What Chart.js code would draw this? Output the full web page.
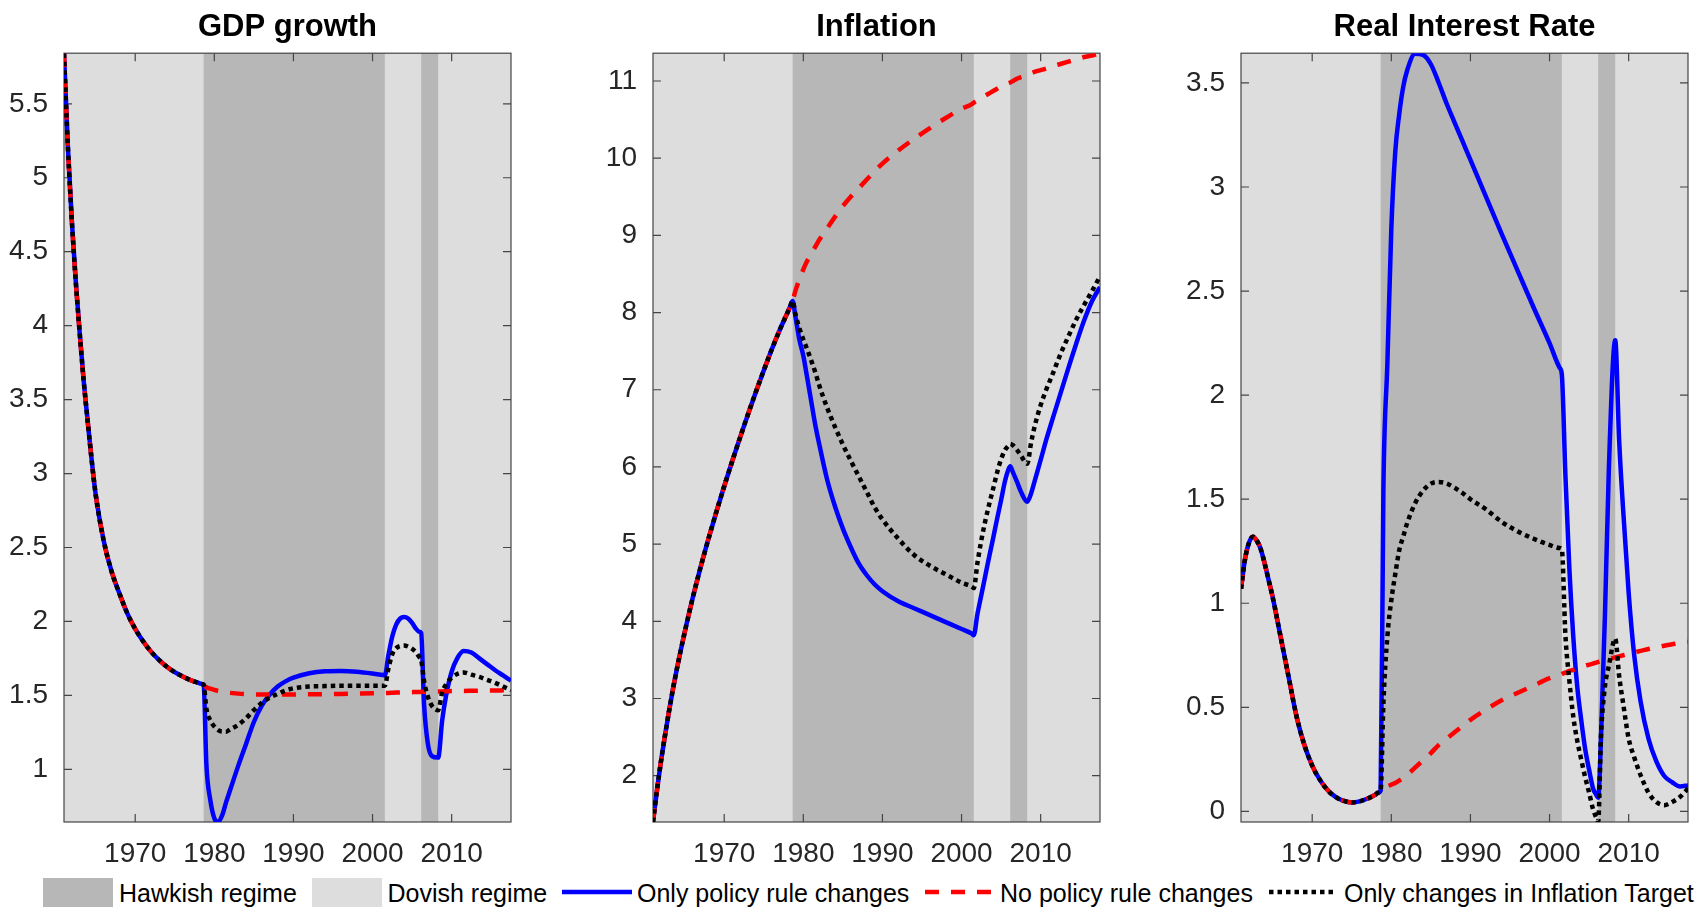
<!DOCTYPE html>
<html>
<head>
<meta charset="utf-8">
<script src="https://cdn.jsdelivr.net/npm/chart.js@4.4.0/dist/chart.umd.min.js"></script>
<style>
    body { margin: 0; background: #fff; width: 1705px; height: 910px; position: relative; overflow: hidden;
           font-family: "Liberation Sans", Arial, sans-serif; }
    canvas.panel { position: absolute; top: 0; }
    .leg-text { position: absolute; top: 876px; height: 34px; line-height: 34px; font-size: 25px; color: #000; white-space: nowrap; }
    .leg-patch { position: absolute; top: 878px; height: 29px; }
    .leg-line { position: absolute; top: 877px; }
</style>
</head>
<body>
<canvas id="gdp" class="panel" width="513" height="870" style="left:0px"></canvas>
<canvas id="infl" class="panel" width="513" height="870" style="left:589px"></canvas>
<canvas id="rate" class="panel" width="513" height="870" style="left:1177px"></canvas>
<div id="legend"></div>
<script>
// --- data ---
const yearsPre = [1961, 1961.5, 1962, 1962.5, 1963, 1963.5, 1964, 1964.5, 1965, 1966, 1967, 1968,
    1969, 1970, 1971, 1972, 1973, 1974, 1975, 1976, 1977, 1978, 1978.3, 1978.65];
const yearsPost = [1979, 1979.5, 1980, 1980.5, 1981, 1981.5, 1982, 1983, 1984, 1985, 1986, 1987, 1988,
    1989, 1990, 1992, 1994, 1996, 1998, 2000, 2001.3, 2001.55, 2002, 2002.5, 2003, 2003.5, 2004, 2004.5,
    2005, 2005.5, 2005.9, 2006.15, 2006.5, 2007, 2007.5, 2008.3, 2008.8, 2009.3, 2010, 2010.7, 2011.5,
    2012.5, 2013.5, 2014.5, 2015.5, 2016.5, 2017.5];
const yearTicks = [1970, 1980, 1990, 2000, 2010];

const hawkishStart = [1978.65, 2006.15];
const hawkishEnd = [2001.55, 2008.3];

// GDP growth
const gdpCommon = [5.84, 5.2, 4.7, 4.29, 3.94, 3.62, 3.35, 3.09, 2.86, 2.55, 2.34, 2.19, 2.055, 1.95,
    1.866, 1.796, 1.74, 1.694, 1.657, 1.628, 1.603, 1.584, 1.578, 1.572];
const gdpPolicy = [1.03, 0.79, 0.67, 0.645, 0.69, 0.78, 0.86, 1.02, 1.17, 1.32, 1.43, 1.505, 1.56, 1.595,
    1.62, 1.65, 1.663, 1.665, 1.66, 1.648, 1.638, 1.635, 1.77, 1.90, 1.98, 2.02, 2.03, 2.02, 1.99, 1.95,
    1.93, 1.92, 1.45, 1.17, 1.09, 1.08, 1.33, 1.50, 1.66, 1.75, 1.80, 1.79, 1.75, 1.71, 1.67, 1.635, 1.60];
const gdpNoPolicy = [1.555, 1.545, 1.537, 1.53, 1.525, 1.52, 1.517, 1.512, 1.508, 1.506, 1.506, 1.506,
    1.506, 1.506, 1.506, 1.507, 1.508, 1.51, 1.512, 1.514, 1.515, 1.516, 1.517, 1.518, 1.519, 1.52, 1.52,
    1.521, 1.522, 1.523, 1.5235, 1.524, 1.524, 1.525, 1.526, 1.527, 1.527, 1.528, 1.529, 1.53, 1.53,
    1.531, 1.532, 1.533, 1.533, 1.534, 1.535];
const gdpTarget = [1.41, 1.33, 1.29, 1.265, 1.255, 1.255, 1.27, 1.30, 1.345, 1.40, 1.45, 1.485, 1.51,
    1.533, 1.548, 1.56, 1.563, 1.565, 1.565, 1.565, 1.565, 1.565, 1.68, 1.78, 1.82, 1.835, 1.838, 1.83,
    1.815, 1.79, 1.76, 1.74, 1.60, 1.49, 1.43, 1.40, 1.52, 1.575, 1.62, 1.645, 1.655, 1.64, 1.625, 1.605,
    1.585, 1.56, 1.535];
const gdpTicks = [1, 1.5, 2, 2.5, 3, 3.5, 4, 4.5, 5, 5.5];

// Inflation
const inflCommon = [1.40, 1.81, 2.18, 2.51, 2.82, 3.11, 3.375, 3.62, 3.855, 4.295, 4.695, 5.065, 5.415,
    5.75, 6.07, 6.38, 6.68, 6.97, 7.25, 7.52, 7.77, 8.00, 8.07, 8.15];
const inflPolicy = [7.95, 7.65, 7.44, 7.15, 6.85, 6.55, 6.30, 5.84, 5.49, 5.20, 4.96, 4.75, 4.60, 4.48,
    4.39, 4.26, 4.17, 4.08, 3.99, 3.90, 3.84, 3.82, 4.09, 4.34, 4.59, 4.84, 5.08, 5.33, 5.57, 5.82, 5.96,
    6.01, 5.93, 5.81, 5.68, 5.55, 5.66, 5.84, 6.09, 6.35, 6.62, 6.95, 7.28, 7.60, 7.90, 8.15, 8.33];
const inflNoPolicy = [8.28, 8.43, 8.56, 8.67, 8.76, 8.85, 8.94, 9.09, 9.24, 9.38, 9.50, 9.61, 9.72, 9.83,
    9.93, 10.10, 10.25, 10.39, 10.52, 10.64, 10.70, 10.72, 10.75, 10.78, 10.81, 10.84, 10.87, 10.90, 10.93,
    10.95, 10.97, 10.98, 11.0, 11.03, 11.05, 11.08, 11.10, 11.12, 11.14, 11.16, 11.19, 11.22, 11.25, 11.28,
    11.31, 11.33, 11.36];
const inflTarget = [7.98, 7.80, 7.65, 7.52, 7.38, 7.23, 7.06, 6.77, 6.52, 6.29, 6.08, 5.88, 5.68, 5.48,
    5.32, 5.07, 4.86, 4.72, 4.61, 4.50, 4.45, 4.43, 4.75, 5.05, 5.30, 5.52, 5.72, 5.93, 6.10, 6.22, 6.27,
    6.30, 6.28, 6.22, 6.15, 6.04, 6.32, 6.55, 6.80, 7.00, 7.20, 7.46, 7.69, 7.91, 8.10, 8.28, 8.47];
const inflTicks = [2, 3, 4, 5, 6, 7, 8, 9, 10, 11];

// Real interest rate
const rateCommon = [1.07, 1.21, 1.29, 1.32, 1.30, 1.26, 1.19, 1.11, 1.03, 0.84, 0.65, 0.46, 0.32, 0.22,
    0.15, 0.10, 0.068, 0.05, 0.043, 0.048, 0.062, 0.08, 0.09, 0.10];
const ratePolicy = [1.55, 2.15, 2.80, 3.17, 3.35, 3.48, 3.56, 3.64, 3.635, 3.59, 3.50, 3.40, 3.31, 3.22,
    3.13, 2.95, 2.77, 2.595, 2.42, 2.25, 2.13, 2.10, 1.62, 1.17, 0.84, 0.60, 0.44, 0.30, 0.20, 0.11, 0.08,
    0.065, 0.35, 0.94, 1.65, 2.264, 1.78, 1.45, 1.05, 0.75, 0.53, 0.35, 0.24, 0.17, 0.14, 0.12, 0.125];
const rateNoPolicy = [0.11, 0.12, 0.128, 0.136, 0.148, 0.16, 0.175, 0.21, 0.245, 0.28, 0.32, 0.35, 0.38,
    0.41, 0.44, 0.49, 0.535, 0.57, 0.605, 0.64, 0.655, 0.66, 0.667, 0.675, 0.68, 0.687, 0.693, 0.70, 0.705,
    0.71, 0.715, 0.718, 0.722, 0.727, 0.732, 0.74, 0.745, 0.75, 0.757, 0.764, 0.771, 0.78, 0.788, 0.796,
    0.803, 0.81, 0.815];
const rateTarget = [0.52, 0.84, 1.015, 1.14, 1.255, 1.32, 1.385, 1.48, 1.54, 1.575, 1.583, 1.575, 1.555,
    1.53, 1.50, 1.45, 1.39, 1.345, 1.31, 1.28, 1.265, 1.26, 0.85, 0.63, 0.455, 0.34, 0.25, 0.165, 0.09,
    0.01, -0.03, -0.05, 0.36, 0.60, 0.70, 0.83, 0.65, 0.52, 0.35, 0.26, 0.175, 0.09, 0.045, 0.03, 0.045,
    0.07, 0.11];
const rateTicks = [0, 0.5, 1, 1.5, 2, 2.5, 3, 3.5];

// --- styling ---
const FONT = '"Liberation Sans", Arial, Helvetica, sans-serif';
const DOVISH = '#dddddd';
const HAWKISH = '#b7b7b7';
const AXIS = '#454545';
const TICK_TEXT = '#262626';

const seriesStyle = [
    { label: 'Only policy rule changes', color: '#0000ff', width: 4.5, dash: [], order: 3 },
    { label: 'No policy rule changes', color: '#ff0000', width: 4.5, dash: [14, 12], order: 2 },
    { label: 'Only changes in Inflation Target', color: '#000000', width: 4.5, dash: [4.5, 4], order: 1 },
];

// shaded regimes + box with inward ticks (matlab look)
const axesBox = {
    id: 'axesBox',
    beforeDatasetsDraw(chart) {
        const { ctx, chartArea: a, scales: { x, y } } = chart;
        ctx.save();
        ctx.fillStyle = DOVISH;
        ctx.fillRect(a.left, a.top, a.width, a.height);
        ctx.fillStyle = HAWKISH;
        hawkishStart.forEach((s, i) => {
            const x0 = x.getPixelForValue(s);
            const x1 = x.getPixelForValue(hawkishEnd[i]);
            ctx.fillRect(x0, a.top, x1 - x0, a.height);
        });
        ctx.strokeStyle = AXIS;
        ctx.lineWidth = 1.2;
        ctx.strokeRect(a.left, a.top, a.width, a.height);
        ctx.beginPath();
        x.ticks.forEach(t => {
            const px = x.getPixelForValue(t.value);
            ctx.moveTo(px, a.bottom); ctx.lineTo(px, a.bottom - 8);
            ctx.moveTo(px, a.top); ctx.lineTo(px, a.top + 8);
        });
        y.ticks.forEach(t => {
            const py = y.getPixelForValue(t.value);
            ctx.moveTo(a.left, py); ctx.lineTo(a.left + 8, py);
            ctx.moveTo(a.right, py); ctx.lineTo(a.right - 8, py);
        });
        ctx.stroke();
        ctx.restore();
    }
};

function toPoints(common, post) {
    return yearsPre.map((x, i) => ({ x, y: common[i] }))
        .concat(yearsPost.map((x, i) => ({ x, y: post[i] })));
}

function makePanel(id, title, common, series, yMin, yMax, yTicks) {
    const ctx = document.getElementById(id).getContext('2d');
    return new Chart(ctx, {
        type: 'line',
        data: {
            datasets: series.map((vals, i) => ({
                label: seriesStyle[i].label,
                data: toPoints(common, vals),
                borderColor: seriesStyle[i].color,
                borderWidth: seriesStyle[i].width,
                borderDash: seriesStyle[i].dash,
                order: seriesStyle[i].order,
            })),
        },
        options: {
            responsive: false,
            animation: false,
            layout: { padding: { right: 2 } },
            elements: {
                point: { radius: 0 },
                line: { cubicInterpolationMode: 'monotone', borderCapStyle: 'butt', borderJoinStyle: 'round' }
            },
            plugins: {
                legend: { display: false },
                tooltip: { enabled: false },
                title: {
                    display: true,
                    text: title,
                    fullSize: false,
                    color: '#000',
                    font: { size: 31, weight: 'bold', family: FONT, lineHeight: 1.2 },
                    padding: { top: 9, bottom: 7 }
                }
            },
            scales: {
                x: {
                    type: 'linear',
                    min: 1961,
                    max: 2017.5,
                    grid: { display: false },
                    border: { display: false },
                    afterBuildTicks: s => { s.ticks = yearTicks.map(v => ({ value: v })); },
                    afterFit: s => { s.height = 48; },
                    ticks: {
                        padding: 7, color: TICK_TEXT, maxRotation: 0, autoSkip: false,
                        font: { size: 28, family: FONT },
                        callback: v => String(v)
                    }
                },
                y: {
                    min: yMin,
                    max: yMax,
                    grid: { display: false },
                    border: { display: false },
                    afterBuildTicks: s => { s.ticks = yTicks.map(v => ({ value: v })); },
                    afterFit: s => { s.width = 64; },
                    ticks: {
                        padding: 8, color: TICK_TEXT, autoSkip: false,
                        font: { size: 28, family: FONT },
                        callback: v => String(v)
                    }
                }
            }
        },
        plugins: [axesBox]
    });
}

makePanel('gdp', 'GDP growth', gdpCommon, [gdpPolicy, gdpNoPolicy, gdpTarget], 0.644, 5.842, gdpTicks);
makePanel('infl', 'Inflation', inflCommon, [inflPolicy, inflNoPolicy, inflTarget], 1.40, 11.36, inflTicks);
makePanel('rate', 'Real Interest Rate', rateCommon, [ratePolicy, rateNoPolicy, rateTarget], -0.051, 3.643, rateTicks);

// --- shared legend along the bottom ---
const legendItems = [
    { label: 'Hawkish regime', patch: HAWKISH, symLeft: 43, symWidth: 70, textLeft: 119 },
    { label: 'Dovish regime', patch: DOVISH, symLeft: 312, symWidth: 70, textLeft: 387.5 },
    { label: seriesStyle[0].label, line: seriesStyle[0], symLeft: 562, symWidth: 70, textLeft: 637 },
    { label: seriesStyle[1].label, line: seriesStyle[1], symLeft: 925, symWidth: 70, textLeft: 1000 },
    { label: seriesStyle[2].label, line: seriesStyle[2], symLeft: 1269, symWidth: 66, textLeft: 1344 },
];

const legendEl = document.getElementById('legend');
legendItems.forEach(item => {
    if (item.patch) {
        const d = document.createElement('div');
        d.className = 'leg-patch';
        d.style.left = item.symLeft + 'px';
        d.style.width = item.symWidth + 'px';
        d.style.background = item.patch;
        legendEl.appendChild(d);
    } else {
        const c = document.createElement('canvas');
        c.className = 'leg-line';
        c.width = item.symWidth;
        c.height = 30;
        c.style.left = item.symLeft + 'px';
        const g = c.getContext('2d');
        g.strokeStyle = item.line.color;
        g.lineWidth = item.line.width;
        g.setLineDash(item.line.dash);
        g.beginPath();
        g.moveTo(0, 15);
        g.lineTo(item.symWidth, 15);
        g.stroke();
        legendEl.appendChild(c);
    }
    const t = document.createElement('div');
    t.className = 'leg-text';
    t.style.left = item.textLeft + 'px';
    t.textContent = item.label;
    legendEl.appendChild(t);
});
</script>
</body>
</html>
